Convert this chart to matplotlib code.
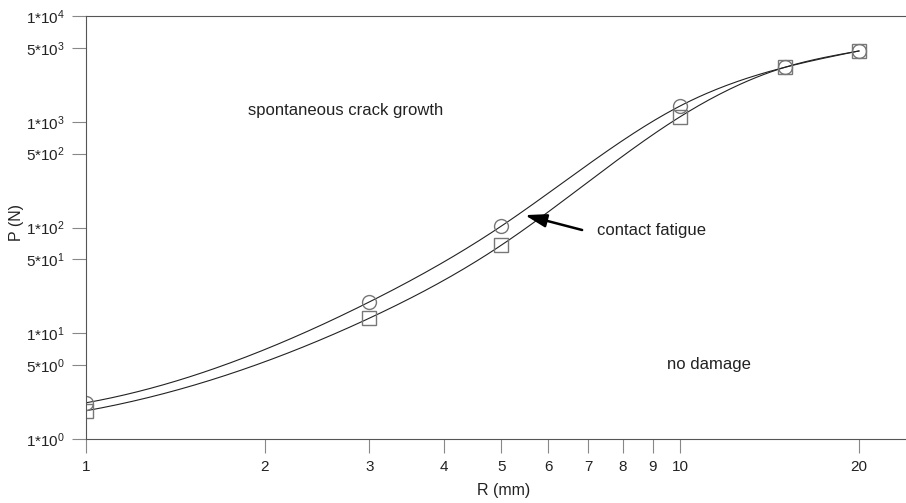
import numpy as np
import matplotlib.pyplot as plt
from matplotlib.ticker import FixedLocator, FixedFormatter

plt.rcParams['font.family'] = ['Liberation Sans', 'DejaVu Sans']
plt.rcParams['mathtext.fontset'] = 'custom'
plt.rcParams['mathtext.rm'] = 'Liberation Sans'

R = [1, 3, 5, 10, 15, 20]
P_circle = [2.2, 19.8, 103, 1410, 3270, 4670]
P_square = [1.85, 13.9, 68, 1115, 3270, 4670]

yticks = [1, 5, 10, 50, 100, 500, 1000, 5000, 10000]
ylabels = [r'$\mathregular{1{*}10^{0}}$', r'$\mathregular{5{*}10^{0}}$',
           r'$\mathregular{1{*}10^{1}}$', r'$\mathregular{5{*}10^{1}}$',
           r'$\mathregular{1{*}10^{2}}$', r'$\mathregular{5{*}10^{2}}$',
           r'$\mathregular{1{*}10^{3}}$', r'$\mathregular{5{*}10^{3}}$',
           r'$\mathregular{1{*}10^{4}}$']
xticks = [1, 2, 3, 4, 5, 6, 7, 8, 9, 10, 20]


def spline(x, y, xs, start_slope=1.0):
    # cubic spline for the smooth line through the points
    # (clamped slope at the left end, natural at the right end)
    x = np.asarray(x, float)
    y = np.asarray(y, float)
    n = len(x)
    h = np.diff(x)
    d = np.diff(y) / h
    A = np.zeros((n, n))
    b = np.zeros(n)
    A[0, 0] = 2 * h[0]
    A[0, 1] = h[0]
    b[0] = 6 * (d[0] - start_slope)
    A[-1, -1] = 1
    for i in range(1, n - 1):
        A[i, i - 1] = h[i - 1]
        A[i, i] = 2 * (h[i - 1] + h[i])
        A[i, i + 1] = h[i]
        b[i] = 6 * (d[i] - d[i - 1])
    M = np.linalg.solve(A, b)
    i = np.clip(np.searchsorted(x, xs) - 1, 0, n - 2)
    a = x[i + 1] - xs
    c = xs - x[i]
    hi = h[i]
    return (M[i] * a**3 / (6 * hi) + M[i + 1] * c**3 / (6 * hi)
            + (y[i] / hi - M[i] * hi / 6) * a
            + (y[i + 1] / hi - M[i + 1] * hi / 6) * c)


fig = plt.figure(figsize=(9.06, 5.03), dpi=100)
ax = fig.add_axes([0.0949, 0.1272, 0.9051, 0.841])
ax.set_xscale('log')
ax.set_yscale('log')

lx = np.linspace(0, np.log10(20), 300)
for P in (P_circle, P_square):
    ly = spline(np.log10(R), np.log10(P), lx)
    ax.plot(10 ** lx, 10 ** ly, color='#222222', lw=0.8)

ax.plot(R, P_circle, 'o', ms=10, mfc='none', mec='#777777', mew=1.0)
ax.plot(R, P_square, 's', ms=10, mfc='none', mec='#777777', mew=1.0)

ax.set_xlim(1, 24)
ax.set_ylim(1, 10000)
ax.yaxis.set_major_locator(FixedLocator(yticks))
ax.yaxis.set_major_formatter(FixedFormatter(ylabels))
ax.yaxis.set_minor_locator(FixedLocator([]))
ax.xaxis.set_major_locator(FixedLocator(xticks))
ax.xaxis.set_major_formatter(FixedFormatter([str(v) for v in xticks]))
ax.xaxis.set_minor_locator(FixedLocator([]))
ax.tick_params(length=10, width=0.8, color='#888888', labelsize=11,
               labelcolor='#222222', pad=5)

for s in ['left', 'bottom', 'top']:
    ax.spines[s].set_color('#555555')
    ax.spines[s].set_linewidth(0.8)
ax.spines['right'].set_visible(False)

ax.set_xlabel('R (mm)', fontsize=11.5, color='#222222')
ax.set_ylabel('P (N)', fontsize=11.5, color='#222222')
ax.xaxis.set_label_coords(0.509, -0.105)
ax.yaxis.set_label_coords(-0.076, 0.513)

ax.text(0.3165, 0.776, 'spontaneous crack growth', transform=ax.transAxes,
        ha='center', va='center', fontsize=12, color='#222222')
ax.text(0.760, 0.177, 'no damage', transform=ax.transAxes,
        ha='center', va='center', fontsize=12, color='#222222')
ax.annotate('', xy=(5.48, 131), xytext=(6.84, 94.7),
            arrowprops=dict(arrowstyle='-|>,head_length=1.3,head_width=0.4',
                            color='black', lw=1.8, shrinkA=0, shrinkB=0))
ax.text(7.25, 94.7, 'contact fatigue', fontsize=12, color='#222222',
        va='center', ha='left')

fig.savefig('out.png', dpi=100)
